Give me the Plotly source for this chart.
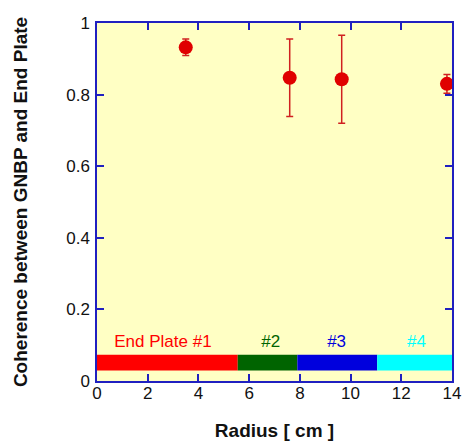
import plotly.graph_objects as go

# Data
radius = [3.5, 7.6, 9.65, 13.8]
coherence = [0.932, 0.847, 0.843, 0.830]
coh_err = [0.023, 0.108, 0.123, 0.026]

plate_names = ["End Plate #1", "#2", "#3", "#4"]
plate_start = [0.0, 5.55, 7.9, 11.05]
plate_end = [5.55, 7.9, 11.05, 14.0]
plate_label_x = [2.6, 6.85, 9.45, 12.6]
plate_colors = ["#ff0000", "#006400", "#0000dd", "#00ffff"]
bar_y = 0.051
bar_h = 0.044
label_y = 0.107

x_ticks = [0, 2, 4, 6, 8, 10, 12, 14]
y_ticks = [0, 0.2, 0.4, 0.6, 0.8, 1]
y_ticklabels = ["0", "0.2", "0.4", "0.6", "0.8", "1"]

FONT = "Liberation Sans, Arial, sans-serif"

fig = go.Figure()

fig.add_trace(go.Bar(
    orientation="h",
    y=[bar_y] * len(plate_start),
    base=plate_start,
    x=[e - s for s, e in zip(plate_start, plate_end)],
    width=bar_h,
    marker=dict(color=plate_colors, line=dict(width=0)),
    showlegend=False,
    hoverinfo="skip",
))

fig.add_trace(go.Scatter(
    x=plate_label_x,
    y=[label_y] * len(plate_label_x),
    mode="text",
    text=plate_names,
    textfont=dict(family=FONT, size=17, color=plate_colors),
    showlegend=False,
    hoverinfo="skip",
))

fig.add_trace(go.Scatter(
    x=radius,
    y=coherence,
    mode="markers",
    marker=dict(color="#e00000", size=14, line=dict(width=0)),
    error_y=dict(type="data", array=coh_err, visible=True, color="#d02020", thickness=1.5, width=3.5),
    showlegend=False,
    cliponaxis=False,
))

axis_common = dict(
    showline=True, linecolor="#2020c0", linewidth=1.5, mirror="ticks",
    ticks="inside", tickcolor="#2020c0", ticklen=7, tickwidth=1.5,
    showgrid=False, zeroline=False, automargin=False,
    tickfont=dict(family=FONT, size=17, color="#111"),
)

fig.update_layout(
    width=463, height=443,
    margin=dict(l=97, r=11, t=23, b=62),
    paper_bgcolor="white",
    plot_bgcolor="#ffffc4",
    xaxis=dict(range=[0, 14], tickvals=x_ticks, ticklabelstandoff=-4, **axis_common,
               title=dict(text="<b>Radius [ cm ]</b>", standoff=22,
                          font=dict(family=FONT, size=19, color="#111"))),
    yaxis=dict(range=[0, 1], tickvals=y_ticks, ticktext=y_ticklabels, ticklabelstandoff=2, **axis_common,
               title=dict(text="<b>Coherence between GNBP and End Plate</b>", standoff=34,
                          font=dict(family=FONT, size=19, color="#111"))),
)

# remove the default 8px page margin so the figure fills the window exactly
fig.write_html(
    "out.html",
    config={"displayModeBar": False},
    post_script="document.body.style.margin='0px';document.body.style.overflow='hidden';",
)
